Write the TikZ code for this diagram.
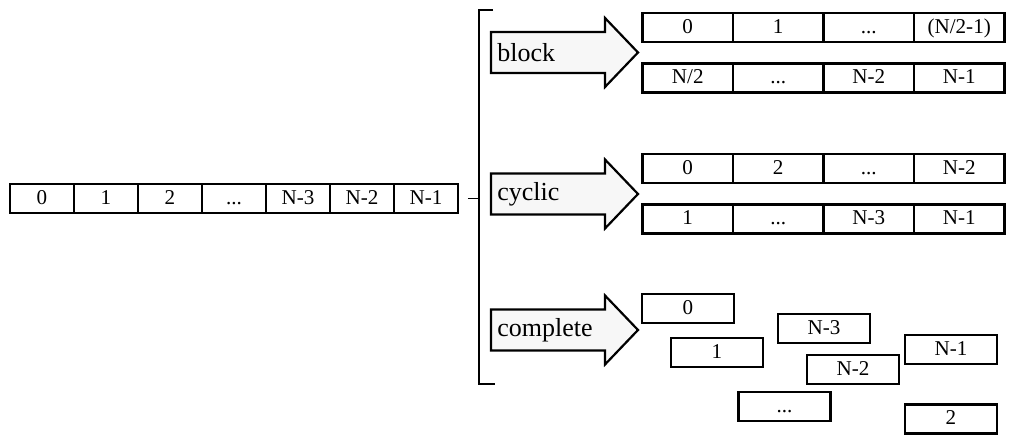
\documentclass[tikz,border=0pt]{standalone}
\usepackage{fontspec}
\setmainfont{Liberation Serif}
\usepackage{xcolor}
\usetikzlibrary{positioning, calc}

\begin{document}
\begin{tikzpicture}[
    x=0.02cm, y=-0.02cm,
    cell/.style={draw, line width=1.25pt, minimum width=1.28cm, minimum height=0.58cm, inner sep=0pt, outer sep=0pt, text height=0.68em, text depth=0pt, font=\fontsize{12}{14}\selectfont},
    wcell/.style={cell, minimum width=1.81cm},
    loosecell/.style={cell, minimum width=1.84cm},
    bigarrow/.style={draw, line width=1.25pt, fill=gray!6, line join=miter},
    schemelabel/.style={anchor=west, inner sep=0pt, font=\fontsize{14.8}{17}\selectfont},
    brace/.style={draw, line width=0.9pt},
]
\useasboundingbox (0,0) rectangle (1022,439);

% Input array
\node[cell] (a0) at (42,198.5) {0};
\node[cell, right=0pt of a0] (a1) {1};
\node[cell, right=0pt of a1] (a2) {2};
\node[cell, right=0pt of a2] (a3) {...};
\node[cell, right=0pt of a3] (a4) {N-3};
\node[cell, right=0pt of a4] (a5) {N-2};
\node[cell, right=0pt of a5] (a6) {N-1};

% Bracket
\coordinate (brk) at (479,198.5);
\draw[brace] ($(a6.east)+(10,0)$) -- (brk);
\draw[brace] (493,10) -- (479,10) -- (479,384) -- (495,384);

% Arrows with scheme names
\draw[bigarrow] (491,32) -- ++(114,0) -- ++(0,-14) -- ++(33,34.5) -- ++(-33,34.5) -- ++(0,-14) -- ++(-114,0) -- cycle;
\node[schemelabel] (blocklbl) at (497,52.5) {block};
\draw[bigarrow] (491,173.5) -- ++(114,0) -- ++(0,-14) -- ++(33,34.5) -- ++(-33,34.5) -- ++(0,-14) -- ++(-114,0) -- cycle;
\node[schemelabel] (cycliclbl) at (497,194) {cyclic};
\draw[bigarrow] (491,309.5) -- ++(114,0) -- ++(0,-14) -- ++(33,34.5) -- ++(-33,34.5) -- ++(0,-14) -- ++(-114,0) -- cycle;
\node[schemelabel] (completelbl) at (497,330) {complete};

% Block distribution
\node[wcell] (b0) at (687.75,27.5) {0};
\node[wcell, right=0pt of b0] (b1) {1};
\node[wcell, right=0pt of b1] (b2) {...};
\node[wcell, right=0pt of b2] (b3) {(N/2-1)};
\node[wcell] (b4) at (687.75,78) {N/2};
\node[wcell, right=0pt of b4] (b5) {...};
\node[wcell, right=0pt of b5] (b6) {N-2};
\node[wcell, right=0pt of b6] (b7) {N-1};

% Cyclic distribution
\node[wcell] (c0) at (687.75,168.5) {0};
\node[wcell, right=0pt of c0] (c1) {2};
\node[wcell, right=0pt of c1] (c2) {...};
\node[wcell, right=0pt of c2] (c3) {N-2};
\node[wcell] (c4) at (687.75,219) {1};
\node[wcell, right=0pt of c4] (c5) {...};
\node[wcell, right=0pt of c5] (c6) {N-3};
\node[wcell, right=0pt of c6] (c7) {N-1};

% Complete distribution
\node[loosecell] (d0) at (688,308.5) {0};
\node[loosecell] (d1) at (717,352.5) {1};
\node[loosecell] (d4) at (824,328.5) {N-3};
\node[loosecell] (d5) at (853,369.5) {N-2};
\node[loosecell] (d6) at (951,349.5) {N-1};
\node[loosecell] (d3) at (784.5,406.5) {...};
\node[loosecell] (d2) at (951,419) {2};

\end{tikzpicture}
\end{document}
